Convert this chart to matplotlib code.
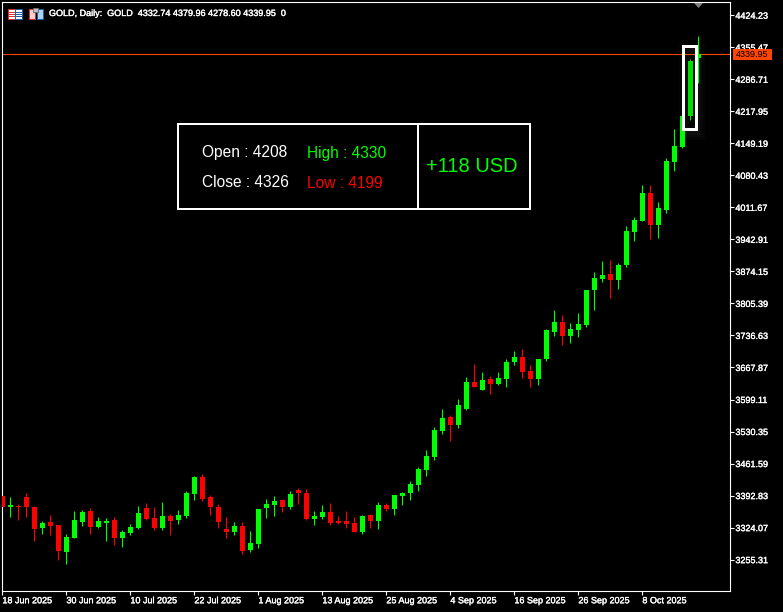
import matplotlib
matplotlib.use('Agg')
import matplotlib.pyplot as plt
import matplotlib.patheffects as pe
from matplotlib.patches import Rectangle, Polygon

# daily candles
opens = [3392.2,3368.5,3370.7,3390.0,3368.5,3323.5,3336.3,3329.9,3271.9,3302.0,
         3336.3,3360.0,3325.6,3334.2,3340.6,3302.0,3312.7,3323.5,3366.4,3344.9,
         3323.5,3349.2,3340.6,3349.2,3396.5,3433.0,3390.0,3368.5,3321.3,3314.9,
         3327.8,3276.2,3289.1,3366.4,3372.8,3383.6,3368.5,3405.0,3398.6,3342.8,
         3347.1,3357.8,3338.5,3338.5,3334.2,3314.9,3351.4,3338.5,3372.8,3364.2,
         3392.2,3398.6,3415.8,3448.0,3475.9,3531.7,3561.8,3544.6,3579.0,3636.9,
         3619.7,3643.4,3632.6,3643.4,3679.9,3690.6,3660.5,3643.4,3686.3,3744.3,
         3765.8,3735.7,3748.6,3759.3,3834.5,3858.1,3868.8,3855.9,3888.1,3959.0,
         3982.6,4042.7,3974.0,4006.2,4109.3,4141.5,4208.0,4332.74]
highs = [3392.2,3390.0,3375.0,3398.6,3370.7,3338.5,3351.4,3329.9,3310.6,3360.0,
         3362.1,3366.4,3347.1,3344.9,3347.1,3319.2,3332.0,3370.7,3377.1,3368.5,
         3379.3,3353.5,3362.1,3402.9,3435.1,3439.4,3394.3,3375.0,3347.1,3336.3,
         3336.3,3317.0,3364.2,3385.7,3392.2,3385.7,3402.9,3409.3,3407.2,3360.0,
         3372.8,3377.1,3349.2,3360.0,3347.1,3351.4,3353.5,3379.3,3377.1,3394.3,
         3400.7,3424.4,3454.4,3490.9,3540.3,3579.0,3566.1,3600.4,3647.7,3675.6,
         3658.4,3649.8,3658.4,3686.3,3703.5,3707.8,3673.4,3686.3,3750.7,3791.5,
         3780.8,3763.6,3785.1,3834.5,3873.1,3896.7,3898.8,3892.4,3971.9,3991.2,
         4059.9,4059.9,4023.4,4117.9,4180.1,4208.0,4330.0,4379.96]
lows = [3368.5,3347.1,3340.6,3347.1,3295.5,3310.6,3308.4,3254.7,3246.1,3302.0,
        3327.8,3310.6,3323.5,3295.5,3287.0,3282.7,3308.4,3321.3,3340.6,3319.2,
        3319.2,3308.4,3332.0,3344.9,3383.6,3381.4,3351.4,3323.5,3302.0,3308.4,
        3267.6,3271.9,3280.5,3344.9,3349.2,3357.8,3364.2,3375.0,3340.6,3329.9,
        3342.8,3329.9,3332.0,3323.5,3314.9,3310.6,3323.5,3321.3,3360.0,3351.4,
        3372.8,3383.6,3402.9,3435.1,3469.4,3525.3,3510.3,3538.2,3576.8,3626.2,
        3619.7,3611.2,3630.5,3626.2,3673.4,3645.5,3626.2,3630.5,3682.0,3735.7,
        3716.4,3720.7,3733.5,3755.0,3791.5,3851.6,3817.3,3836.6,3883.8,3939.6,
        3982.6,3943.9,3946.1,3999.8,4089.9,4139.3,4199.0,4278.60]
closes = [3368.5,3372.8,3368.5,3368.5,3321.3,3334.2,3327.8,3274.1,3304.1,3340.6,
          3357.8,3325.6,3338.5,3338.5,3302.0,3314.9,3325.6,3355.7,3342.8,3323.5,
          3349.2,3338.5,3351.4,3398.6,3433.0,3385.7,3368.5,3336.3,3314.9,3327.8,
          3274.1,3291.2,3364.2,3375.0,3381.4,3368.5,3396.5,3398.6,3342.8,3349.2,
          3357.8,3334.2,3334.2,3332.0,3314.9,3349.2,3338.5,3372.8,3364.2,3394.3,
          3398.6,3417.9,3450.1,3478.0,3533.9,3559.6,3544.6,3587.5,3636.9,3626.2,
          3641.2,3632.6,3645.5,3679.9,3690.6,3658.4,3643.4,3686.3,3748.6,3765.8,
          3736.4,3750.7,3761.5,3834.5,3860.2,3866.6,3855.9,3888.1,3961.1,3984.7,
          4042.7,3974.0,4010.5,4111.4,4143.6,4208.0,4326.0,4339.95]

price_ticks = [3255.31,3324.07,3392.83,3461.59,3530.35,3599.11,3667.87,3736.63,3805.39,
               3874.15,3942.91,4011.67,4080.43,4149.19,4217.95,4286.71,4355.47,4424.23]
date_ticks = [0,8,16,24,32,40,48,56,64,72,80]
date_labels = ['18 Jun 2025','30 Jun 2025','10 Jul 2025','22 Jul 2025','1 Aug 2025',
               '13 Aug 2025','25 Aug 2025','4 Sep 2025','16 Sep 2025','26 Sep 2025','8 Oct 2025']
last_price = 4339.95
box_index = 86
box_top = 4357.2
box_bottom = 4179.0

GREEN = '#00ff00'
BOX_GREEN = '#00e000'
RED = '#ff0000'
ORANGE = '#ff4500'
SMALL = 'Liberation Sans'
PX = 0.72  # one pixel in points
LINE = 0.8
crisp = [pe.withStroke(linewidth=0.25, foreground='white')]

W, H = 783, 612
fig = plt.figure(figsize=(W/100, H/100), dpi=100, facecolor='black')

# axes frame sits at these pixel edges, bar k is at 2.4+8k
# (the .4 keeps agg's line snapping on the right pixel row/column)
left, right, top, bottom = 2.4, 730.4, 2.4, 591.4
ax = fig.add_axes([left/W, 1-bottom/H, (right-left)/W, (bottom-top)/H], facecolor='black')
ax.set_xlim(0, (right-left)/8)
ax.set_ylim(4424.23-(bottom-15.2)*2.147, 4424.23-(top-15.2)*2.147)
for s in ax.spines.values():
    s.set_color('white')
    s.set_linewidth(LINE)

ax.axhline(last_price, color=ORANGE, lw=LINE, zorder=1)

for i in range(len(opens)):
    c = GREEN if closes[i] >= opens[i] else RED
    if i == box_index:
        c = BOX_GREEN
    ax.plot([i, i], [lows[i], highs[i]], color=c, lw=LINE, zorder=2, solid_capstyle='butt')
    ax.add_patch(Rectangle((i-0.3125, min(opens[i], closes[i])), 0.625, abs(closes[i]-opens[i]),
                           fc=c, ec='none', zorder=3, antialiased=False))

# highlighted candle, with its faint shadow
for grow in (9, 6, 3):
    ax.add_patch(Rectangle((box_index-0.875+0.25, box_bottom-8), 1.625, box_top-box_bottom,
                           fc='none', ec='white', lw=grow, alpha=0.025, zorder=1))
ax.add_patch(Rectangle((box_index-0.875, box_bottom), 1.625, box_top-box_bottom, fc='none',
                       ec='white', lw=3*PX, zorder=5, joinstyle='miter'))

ax.yaxis.tick_right()
ax.set_yticks(price_ticks)
ax.set_yticklabels(['%.2f' % p for p in price_ticks], fontfamily=SMALL, fontsize=6.5)
ax.set_xticks(date_ticks)
ax.set_xticklabels(date_labels, fontfamily=SMALL, fontsize=6.5, ha='left')
ax.tick_params(axis='y', colors='white', length=2.9, width=LINE, pad=0.7)
ax.tick_params(axis='x', colors='white', length=2.9, width=LINE, pad=0.6)
for t in ax.get_xticklabels() + ax.get_yticklabels():
    t.set_path_effects(crisp)

# overlay in pixel coordinates for panel, header and price tag
ov = fig.add_axes([0, 0, 1, 1], facecolor='none')
ov.set_xlim(0, W)
ov.set_ylim(H, 0)
ov.axis('off')

ov.add_patch(Rectangle((178, 124), 352, 85, fc='black', ec='white', lw=2*PX, joinstyle='miter'))
ov.plot([418, 418], [124, 209], color='white', lw=2*PX)
panel = dict(family='Liberation Sans', fontsize=11.2, va='center', ha='left')
ov.text(202, 152.5, 'Open : 4208', color='white', **panel)
ov.text(202, 182.5, 'Close : 4326', color='white', **panel)
ov.text(306.7, 153.5, 'High : 4330', color=GREEN, **panel)
ov.text(306.7, 183.5, 'Low : 4199', color=RED, **panel)
ov.text(472, 166.5, '+118 USD', color=GREEN, family='Liberation Sans', fontsize=14.5, va='center', ha='center')

# header icons and text
ov.add_patch(Rectangle((7.5, 8.5), 7, 10, fc='white', ec='#d83030', lw=PX))
ov.add_patch(Rectangle((14.5, 8.5), 7, 10, fc='white', ec='#1a5fa8', lw=PX))
for y in (11.5, 13.5, 15.5):
    ov.plot([9, 14], [y, y], color='#e03030', lw=PX)
    ov.plot([15.5, 20.5], [y, y], color='#1a5fa8', lw=PX)
ov.add_patch(Rectangle((28.5, 8.5), 6.5, 10, fc='#ffd0d0', ec='#d83030', lw=PX))
ov.add_patch(Rectangle((36.5, 8.5), 6, 10, fc='#a8d4f4', ec='#1a5fa8', lw=PX))
ov.add_patch(Rectangle((33, 8), 5, 3.5, fc='#c0c0c0', ec='#707070', lw=PX))
ov.text(49, 13.5, 'GOLD, Daily:  GOLD  4332.74 4379.96 4278.60 4339.95  0', color='white',
        family=SMALL, fontsize=6.5, va='center', ha='left', path_effects=crisp)

# last price tag and marker at the top
ov.add_patch(Rectangle((733, 49), 39, 11, fc=ORANGE, ec='none'))
ov.text(752.5, 54.8, '4339.95', color='black', family=SMALL, fontsize=6.5, va='center', ha='center')
ov.add_patch(Polygon([(694, 3), (703, 3), (698.5, 8)], fc='#808080', ec='none'))

fig.savefig('out.png', dpi=100, facecolor='black')
